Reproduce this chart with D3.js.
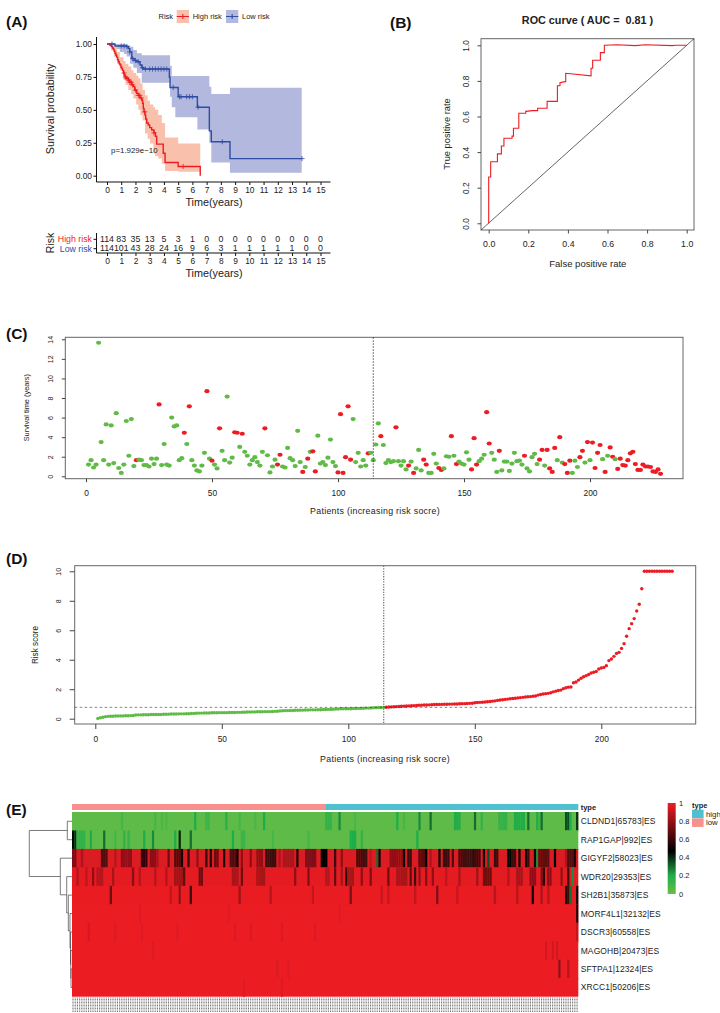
<!DOCTYPE html>
<html><head><meta charset="utf-8">
<script src="https://cdn.jsdelivr.net/npm/d3@7"></script>
<style>html,body{margin:0;padding:0;background:#fff}svg{display:block}text{font-family:"Liberation Sans",Arial,sans-serif}</style>
</head><body><svg id="c" width="720" height="1013"></svg>
<script>
// ---------- Panel A data
const yearTicks = d3.range(0,16);
const survTicks = [0,0.25,0.5,0.75,1];
const highTime = [0,.21,.3,.38,.45,.5,.56,.62,.68,.74,.8,.86,.92,.98,1.03,1.09,1.15,1.21,1.27,1.35,1.5,1.6,1.72,1.85,1.95,2.09,2.2,2.32,2.44,2.5,2.55,2.6,2.67,2.72,2.79,2.9,3.0,3.14,3.3,3.4,3.49,3.95,4.08,5.0,6.55];
const highSurv = [1,.99,.98,.97,.96,.945,.93,.915,.9,.88,.865,.85,.84,.825,.815,.8,.78,.765,.75,.74,.727,.71,.69,.676,.65,.625,.61,.59,.575,.55,.51,.485,.46,.43,.4,.385,.365,.347,.325,.3,.24,.17,.1,.07,0];
const highBandT = [0,.3,.5,.7,.9,1.15,1.3,1.5,1.7,1.85,2.05,2.2,2.35,2.5,2.67,2.85,3.02,3.26,3.38,3.6,3.85,4.08,5.0,6.55];
const highUpper = [1,1,.98,.94,.9,.87,.85,.83,.8,.78,.76,.74,.7,.65,.61,.57,.54,.52,.5,.46,.4,.29,.245,.245];
const highLower = [1,.95,.9,.85,.8,.727,.69,.65,.62,.587,.54,.5,.46,.42,.32,.28,.245,.17,.15,.13,.09,.035,.03,.03];
const lowTime = [0,.35,.56,1.38,1.5,1.6,1.74,1.9,2.09,2.32,2.45,2.56,4.38,4.43,5.0,6.35,7.19,7.33,8.64,13.68];
const lowSurv = [1,1,.985,.98,.965,.94,.89,.875,.865,.84,.82,.81,.747,.67,.6,.52,.34,.258,.13,.13];
const lowBandT = [0,.35,.6,.9,1.2,1.38,1.62,1.85,2.1,2.44,4.43,4.55,4.8,5.0,6.35,7.19,7.33,8.64,13.68];
const lowUpper = [1,1,1,1,1,.99,.98,.955,.93,.915,.835,.757,.757,.757,.757,.675,.62,.668,.668];
const lowLower = [1,.985,.96,.94,.925,.905,.85,.82,.78,.705,.6,.52,.443,.443,.35,.25,.1,.023,.023];
const highCensor = [1.2,1.3,1.4,1.5,1.6,1.7,1.8,2.0,2.2,2.3,2.4,2.65,3.3,5.35];
const lowCensor = [.35,1.0,1.2,1.4,1.6,1.8,2.0,2.2,2.5,2.7,3.0,3.2,3.4,3.6,3.8,4.0,4.2,4.65,5.1,5.2,5.6,5.8,6.0,6.4,8.1,13.7];
const riskHigh = [114,83,35,13,5,3,1,0,0,0,0,0,0,0,0,0];
const riskLow = [114,101,43,28,24,16,9,6,3,1,1,1,1,1,0,0];
// ---------- Panel B data
const rocFpr = [0,0,.01,.01,.044,.044,.064,.064,.077,.077,.118,.118,.125,.125,.152,.152,.187,.187,.222,.247,.247,.295,.295,.347,.347,.36,.36,.386,.389,.389,.517,.517,.525,.525,.564,.564,.584,.584,.65,.74,.79,.93,.94,1];
const rocTpr = [0,.26,.26,.346,.346,.39,.39,.434,.434,.478,.478,.49,.49,.534,.534,.618,.618,.629,.633,.633,.646,.646,.685,.685,.773,.773,.79,.796,.796,.843,.828,.871,.871,.916,.916,.959,.959,1,1.003,.998,1.003,.998,1,1];
const unitTicks = [0,.2,.4,.6,.8,1];
// ---------- Panel C data
const survivalYears = [1.2,1.65,.9,1.2,13.65,3.5,1.65,5.3,1.2,5.2,1.35,6.45,.85,.35,1.2,5.65,2.1,5.85,1.05,1.65,
1.7,1.65,1.15,1.15,1,1.8,1.25,1.8,7.35,1.15,3.3,1.2,1.1,6,5.1,5.2,1.65,1.85,4.45,3.3,
7.15,1.65,1.1,.6,.5,1.1,2.4,8.7,1.8,1.6,1.2,.8,4.9,2.6,1.65,8.15,1.4,1.9,4.5,4.45,
3,4.35,2.5,2.1,1.2,1.65,1.95,1.45,1.1,2.5,4.9,2.15,.4,1,1.7,1.2,2.2,1,.9,2.9,
1.85,1.65,1.05,4.65,1.45,.45,.95,1.8,2.5,2.55,.5,4.15,1.3,1.45,1.15,1.9,3.75,1.45,1.05,.4,
6.35,.35,1.95,7.15,1.7,5.85,1.45,2.4,1,1.65,1.1,2.35,2.4,1.65,3.25,5.4,4.1,3.2,1.35,1.65,
1.45,1.55,5,1.55,1.1,1.55,.7,1.1,1.5,.35,.8,2.7,.6,1.7,1.2,.35,.35,2.3,1.3,.85,
.65,.8,2.05,2,4.1,2.1,1.25,1.5,1.3,1.2,2.45,1.7,.7,3.9,1.2,1.55,1.8,2.2,6.55,3.35,
2.4,1.7,.45,2.6,.6,1.5,1.5,.55,1.3,2.4,1.55,1.6,1.2,2.1,.8,.5,1.95,2.3,1.25,1.7,
2.7,1.1,2.7,.8,.45,2.9,1.65,4,1.4,1.25,.35,1.6,.35,1.6,.95,1.95,2.6,1.4,3.5,1.65,
3.45,.85,2.4,3.2,1.75,.45,2.1,2.95,2,1.75,.75,1.8,1.15,1.1,1.65,2.35,2.5,1.25,.65,.65,
1.2,1,1,.95,.5,.45,.7,.25];
const deadPatients = [20,29,39,41,48,50,53,59,60,62,71,76,77,86,88,90,91,100,101,102,103,104,105,112,117,123,128,130,134,135,140,141,145,147,153,154,155,159,160,164,174,180,181,183,184,185,186,188,190,191,192,196,197,199,201,202,203,204,206,208,209,211,212,213,214,215,216,217,218,219,220,221,222,223,224,225,226,227,228];
const patientTicks = [0,50,100,150,200];
const yearsAxis = [0,2,4,6,8,10,12,14];
// ---------- Panel D data
const riskScore = [.02,.06,.1,.14,.16,.17,.17,.18,.18,.19,.19,.2,.2,.21,.22,
.25,.26,.26,.27,.27,.27,.28,.28,.28,.29,.29,.3,.3,.31,.32,
.32,.32,.33,.33,.33,.34,.34,.35,.36,.37,.38,.38,.39,.39,.39,.4,.4,.4,.41,.41,
.41,.41,.42,.42,.42,.43,.43,.44,.44,.45,.45,.46,.46,.47,.47,.47,.48,.48,.48,.49,
.5,.51,.53,.54,.55,.55,.56,.56,.57,.57,.58,.58,.59,.59,.6,.6,.6,.61,.61,.62,
.62,.63,.63,.64,.65,.66,.67,.67,.68,.68,.68,.69,.69,.7,.7,.71,.72,.72,.73,.74,.75,.76,.76,
.77,.78,.79,.8,.81,.82,.83,.84,.85,.86,.87,.88,.89,.9,.91,.92,.93,
.93,.94,.95,.96,.96,.97,.97,.98,.98,.99,.99,1,1,1.01,1.02,1.02,1.03,1.04,1.05,1.08,
1.1,1.11,1.12,1.13,1.15,1.17,1.19,1.21,1.24,1.27,1.29,1.31,1.33,1.35,1.37,1.39,1.41,1.43,1.45,1.47,1.49,1.5,1.52,1.54,1.6,
1.64,1.68,1.7,1.72,1.76,1.82,1.87,1.91,1.94,2.04,2.1,2.14,2.15,
2.44,2.49,2.62,2.74,2.85,2.92,3,3.1,3.15,3.2,3.37,3.44,3.48,3.6,3.94,4.05,4.23,4.43,4.5,4.77,5.09,5.59,6.11,6.45,6.79,7.31,7.76,8.82,
10,10,10,10,10,10,10,10,10,10,10,10];
const riskCut = 0.77, lowCount = 114;
const scoreTicks = [0,2,4,6,8,10];
// ---------- Panel E data: gene, usual value, then [first column, last column, value]
const genes = ["CLDND1|65783|ES","RAP1GAP|992|ES","GIGYF2|58023|ES","WDR20|29353|ES","SH2B1|35873|ES","MORF4L1|32132|ES","DSCR3|60558|ES","MAGOHB|20473|ES","SFTPA1|12324|ES","XRCC1|50206|ES"];
const usualValue = [.03,.03,.96,.98,.99,.995,.995,.995,.995,.995];
const runs0 = [[22,22,.1],[37,37,.1],[40,40,.08],[42,42,.08],[55,55,.2],[60,61,.12],[69,69,.18],[75,75,.1],[82,82,.08],[86,86,.2],[114,116,.15],[120,120,.25],[127,127,.08],[146,146,.2],[149,149,.1],[156,156,.25],[161,161,.3],[172,174,.2],[181,181,.3],[184,184,.15],[192,195,.15],[199,203,.2],[205,205,.3],[209,209,.2],[210,210,.12],[211,211,.3],[222,223,.35],[224,224,.2],[227,227,.4]];
const runs1 = [[0,0,.45],[1,1,.4],[2,5,.15],[8,8,.2],[14,14,.3],[19,19,.1],[23,23,.15],[25,25,.15],[32,32,.2],[36,36,.25],[46,46,.2],[48,48,.42],[53,53,.3],[72,72,.2],[76,76,.12],[77,77,.12],[90,90,.1],[106,106,.1],[125,127,.2],[130,130,.15],[155,155,.2]];
const runs2 = [[0,1,.75],[4,4,.85],[13,15,.65],[19,19,.88],[22,26,.8],[31,33,.58],[35,37,.78],[38,38,.85],[43,43,.72],[46,48,.65],[49,49,.52],[52,52,.6],[56,56,.8],[60,60,.6],[62,62,.55],[64,65,.7],[68,68,.55],[71,73,.65],[74,74,.48],[76,76,.8],[80,80,.8],[83,85,.8],[87,91,.6],[93,93,.85],[95,99,.85],[101,101,.55],[105,109,.75],[112,114,.47],[118,118,.6],[121,121,.8],[128,132,.62],[134,134,.9],[137,137,.3],[138,138,.5],[143,148,.8],[149,149,.5],[151,151,.6],[152,152,.6],[156,158,.65],[159,159,.5],[161,161,.85],[165,165,.5],[167,169,.6],[171,171,.65],[174,177,.62],[178,183,.6],[185,185,.52],[187,187,.35],[190,191,.6],[196,197,.47],[198,199,.6],[201,201,.48],[204,204,.5],[205,205,.6],[208,208,.45],[209,209,.25],[210,214,.68],[217,217,.48],[222,222,.85],[223,225,.65],[226,226,.55]];
const runs3 = [[2,2,.87],[6,6,.9],[9,9,.8],[11,13,.87],[18,18,.84],[27,27,.78],[30,30,.87],[37,37,.87],[42,42,.87],[46,49,.82],[50,50,.68],[57,58,.72],[72,74,.84],[76,76,.7],[83,86,.84],[100,100,.8],[106,106,.75],[114,115,.87],[118,118,.7],[121,121,.84],[123,123,.58],[124,126,.84],[130,130,.8],[134,134,.76],[142,142,.72],[146,150,.84],[152,152,.68],[154,154,.62],[156,156,.8],[159,159,.78],[162,162,.8],[168,168,.9],[174,174,.84],[182,182,.82],[185,188,.72],[196,196,.87],[200,202,.84],[206,208,.8],[211,211,.76],[212,212,.58],[214,215,.78],[220,220,.8],[223,223,.62],[225,225,.25]];
const runs4 = [[17,17,.72],[44,44,.9],[48,48,.8],[53,53,.6],[75,75,.82],[89,89,.88],[108,108,.9],[125,125,.75],[139,139,.92],[142,142,.92],[154,154,.9],[164,164,.75],[173,173,.92],[190,190,.88],[200,200,.88],[207,207,.5],[211,211,.85],[214,214,.88],[222,222,.55],[223,223,.6],[224,224,.3],[227,227,.45]];
const runs5 = [[227,227,.55],[30,30,.97],[70,70,.97],[120,120,.97]];
const runs6 = [[7,7,.95],[19,19,.96],[31,31,.96],[47,47,.96],[73,73,.96],[80,80,.96],[94,94,.96],[109,109,.96],[227,227,.9]];
const runs7 = [[36,36,.96],[213,213,.94],[216,216,.94],[218,218,.94]];
const runs8 = [[92,92,.96],[97,97,.96],[219,219,.8],[223,223,.88]];
const runs9 = [[77,77,.96],[94,94,.96]];
const allRuns = [runs0,runs1,runs2,runs3,runs4,runs5,runs6,runs7,runs8,runs9];
const legendTicks = [0,.2,.4,.6,.8,1];
const legendTypes = ["high","low"];
const colCount = 228;

// ---------- Helpers
const svg = d3.select("#c");
const RED="#ED1C24", BLUE="#2F4DA3", GREEN="#5FBB46", INK="#222";
const txt=(g,x,y,s,o={})=>{const t=g.append("text").attr("x",x).attr("y",y).attr("dy","0.35em").attr("font-size",o.size||8).attr("fill",o.fill||INK).attr("text-anchor",o.anchor||"middle").attr("font-weight",o.weight||null).text(s);
  if(o.rot) t.attr("transform",`rotate(-90 ${x} ${y})`); if(o.ls) t.attr("letter-spacing",o.ls); return t;};
const style=(a,size,col,stroke)=>{a.selectAll("text").attr("font-size",size).attr("fill",col).attr("font-family",'"Liberation Sans",Arial,sans-serif');a.selectAll("line,path").attr("stroke",stroke||col);};
[["(A)",6,22],["(B)",390,23],["(C)",6,334],["(D)",6,559],["(E)",6,810]].forEach(d=>txt(svg,d[1],d[2],d[0],{size:15.5,weight:"bold",anchor:"start",fill:"#111"}));

// ---------- Panel A
{
 const x=d3.scaleLinear().domain([0,15]).range([107,320.5]);
 const y=d3.scaleLinear().domain([0,1]).range([175.7,44]);
 const g=svg.append("g");
 const band=(t,u,l,c)=>g.append("path").attr("fill",c).attr("d",d3.area().curve(d3.curveStepAfter).x((d,i)=>x(t[i])).y0((d,i)=>y(l[i])).y1((d,i)=>y(u[i]))(t));
 band(lowBandT,lowUpper,lowLower,"#B3B8DE");
 band(highBandT,highUpper,highLower,"#F9C1AB");
 const line=(t,s,c)=>g.append("path").attr("fill","none").attr("stroke",c).attr("stroke-width",1.4).attr("d",d3.line().curve(d3.curveStepAfter).x((d,i)=>x(t[i])).y((d,i)=>y(s[i]))(t));
 line(lowTime,lowSurv,BLUE); line(highTime,highSurv,RED);
 const marks=(ts,t,s,c)=>{const b=d3.bisector(d=>d).right;
  g.append("g").selectAll("path").data(ts).join("path").attr("fill","none").attr("stroke",c).attr("stroke-width",.8)
   .attr("d",d=>{const px=x(d),py=y(s[Math.max(0,b(t,d)-1)]);return `M${px-2.6},${py}H${px+2.6}M${px},${py-2.6}V${py+2.6}`;});};
 marks(lowCensor,lowTime,lowSurv,BLUE); marks(highCensor,highTime,highSurv,RED);
 const ax=g.append("g").attr("transform","translate(0,182)").call(d3.axisBottom(x).tickValues(yearTicks).tickFormat(d3.format("d")).tickSizeInner(3).tickSizeOuter(0).tickPadding(2));
 style(ax,8.4,INK,"#111"); ax.select(".domain").attr("d","M96.5,0H330.5").attr("stroke-width",1);
 const ay=g.append("g").attr("transform","translate(96.5,0)").call(d3.axisLeft(y).tickValues(survTicks).tickFormat(d3.format(".2f")).tickSizeInner(3).tickSizeOuter(0).tickPadding(1.5));
 style(ay,8.4,INK,"#111"); ay.select(".domain").attr("d","M0,37V182");
 txt(g,50,109,"Survival probability",{size:10.8,rot:1});
 txt(g,214,202,"Time(years)",{size:10.8});
 txt(g,111,150,"p=1.929e\u221210",{size:7.9,anchor:"start"});
 // legend
 txt(g,158.5,16.7,"Risk",{size:7.5,anchor:"start"});
 [[176.7,"#F9C1AB",RED,"High risk",192.7],[226,"#B3B8DE",BLUE,"Low risk",242]].forEach(d=>{
  g.append("rect").attr("x",d[0]).attr("y",10).attr("width",12.3).attr("height",13).attr("fill",d[1]);
  g.append("path").attr("stroke",d[2]).attr("stroke-width",1.1).attr("fill","none").attr("d",`M${d[0]},16.5h12.3M${d[0]+6.15},14v5`);
  txt(g,d[4],16.7,d[3],{size:7.5,anchor:"start"});
 });
 // risk table
 const rows=d3.scalePoint().domain(["High risk","Low risk"]).range([238.8,248.2]);
 const rax=g.append("g").attr("transform","translate(0,253)").call(d3.axisBottom(x).tickValues(yearTicks).tickFormat(d3.format("d")).tickSizeInner(3).tickSizeOuter(0).tickPadding(2));
 style(rax,8.4,INK,"#111"); rax.select(".domain").attr("d","M96.5,0H330.5");
 const ray=g.append("g").attr("transform","translate(96.5,0)").call(d3.axisLeft(rows).tickSizeInner(3).tickSizeOuter(0).tickPadding(1.5));
 style(ray,8.8,INK,"#111"); ray.select(".domain").attr("d","M0,233V253");
 ray.selectAll(".tick text").attr("fill",d=>d==="High risk"?RED:BLUE);
 [[riskHigh,"High risk"],[riskLow,"Low risk"]].forEach(r=>r[0].forEach((v,i)=>txt(g,x(yearTicks[i]),rows(r[1]),v,{size:8.8})));
 txt(g,50,243,"Risk",{size:10.5,rot:1});
 txt(g,214,273.3,"Time(years)",{size:10.8});
}
// R-style frame + axes
function rFrame(fx0,fx1,fy0,fy1,x,y,xt,yt,o){
 const g=svg.append("g");
 g.append("rect").attr("x",fx0).attr("y",fy0).attr("width",fx1-fx0).attr("height",fy1-fy0).attr("fill","none").attr("stroke","#666").attr("stroke-width",1);
 const ax=g.append("g").attr("transform",`translate(0,${fy1})`).call(d3.axisBottom(x).tickValues(xt).tickFormat(o.xf||d3.format("d")).tickSizeInner(o.tick).tickSizeOuter(0).tickPadding(0));
 style(ax,o.size,INK,"#444"); ax.select(".domain").remove();
 ax.selectAll("text").attr("y",null).attr("dy",null).attr("dominant-baseline","central").attr("transform",`translate(0,${o.xlabY-fy1})`);
 const ay=g.append("g").attr("transform",`translate(${fx0},0)`).call(d3.axisLeft(y).tickValues(yt).tickFormat(o.yf||d3.format("d")).tickSizeInner(o.tick).tickSizeOuter(0));
 style(ay,o.ysize||o.size,INK,"#444"); ay.select(".domain").remove();
 ay.selectAll("text").attr("x",null).attr("dy",null).attr("dominant-baseline","central").attr("text-anchor","middle").attr("transform",`translate(${o.ylabX-fx0},0) rotate(-90)`);
 return g;
}
// ---------- Panel B
{
 const x=d3.scaleLinear().domain([0,1]).range([488.7,686.7]);
 const y=d3.scaleLinear().domain([0,1]).range([223.3,45.3]);
 const g=rFrame(481,694,38.7,230,x,y,unitTicks,unitTicks,{tick:3.5,size:8.8,ysize:8.4,xlabY:244,ylabX:465.7,xf:d3.format(".1f"),yf:d3.format(".1f")});
 g.append("line").attr("x1",481).attr("y1",230).attr("x2",694).attr("y2",38.7).attr("stroke","#222").attr("stroke-width",.7);
 g.append("path").attr("fill","none").attr("stroke",RED).attr("stroke-width",1.1).attr("d",d3.line().x((d,i)=>x(rocFpr[i])).y((d,i)=>y(rocTpr[i]))(rocFpr));
 txt(g,587.5,20,"ROC curve ( AUC =  0.81 )",{size:10.8,weight:"bold"}).style("white-space","pre");
 txt(g,587.8,263.3,"False positive rate",{size:9.5});
 txt(g,446.7,134,"True positive rate",{size:9.3,rot:1});
}
// ---------- Panel C
{
 const x=d3.scaleLinear().domain([0,200]).range([86,590]);
 const y=d3.scaleLinear().domain([0,14]).range([476.3,339.3]);
 const g=rFrame(65.3,683,337.3,478.7,x,y,patientTicks,yearsAxis,{tick:3.5,size:8.4,ysize:7,xlabY:492.7,ylabX:50});
 g.selectAll(null).data(survivalYears).join("ellipse").attr("cx",(d,i)=>x(i+1)).attr("cy",d=>y(d)).attr("rx",2.6).attr("ry",2.1)
  .attr("fill",(d,i)=>deadPatients.includes(i+1)?RED:GREEN);
 g.append("line").attr("x1",x(lowCount)).attr("x2",x(lowCount)).attr("y1",337.3).attr("y2",478.7).attr("stroke","#222").attr("stroke-width",.8).attr("stroke-dasharray","1.5 1.5");
 txt(g,375,510.7,"Patients (increasing risk socre)",{size:8.8,ls:.3});
 txt(g,26,407.7,"Survival time (years)",{size:7.4,rot:1});
}
// ---------- Panel D
{
 const x=d3.scaleLinear().domain([0,200]).range([95.3,601.3]);
 const y=d3.scaleLinear().domain([0,10]).range([718.7,571.3]);
 const g=rFrame(74.7,695.7,565.7,724,x,y,patientTicks,scoreTicks,{tick:5,size:8.4,ysize:7,xlabY:739,ylabX:58.3});
 g.selectAll(null).data(riskScore).join("circle").attr("cx",(d,i)=>x(i+1)).attr("cy",d=>y(d)).attr("r",1.7)
  .attr("fill",(d,i)=>i<lowCount?GREEN:RED);
 g.append("line").attr("x1",74.7).attr("x2",695.7).attr("y1",y(riskCut)).attr("y2",y(riskCut)).attr("stroke","#333").attr("stroke-width",.6).attr("stroke-dasharray","2.5 2.5");
 g.append("line").attr("x1",x(lowCount)).attr("x2",x(lowCount)).attr("y1",565.7).attr("y2",724).attr("stroke","#666").attr("stroke-width",1.1).attr("stroke-dasharray","1.3 1.3");
 txt(g,385,759.3,"Patients (increasing risk socre)",{size:8.8,ls:.3});
 txt(g,35,645,"Risk score",{size:8.2,rot:1});
}
// ---------- Panel E
{
 const g=svg.append("g");
 const cols=d3.range(colCount);
 const x=d3.scaleBand().domain(cols).range([72,578.3]);
 const yBand=d3.scaleBand().domain(d3.range(genes.length)).range([812,996.7]);
 const colour=d3.scaleLinear().domain([0,.2,.47,1]).range(["#6ABD45","#1FAE4B","#000000","#ED1C24"]);
 const defs=svg.append("defs");
 defs.append("filter").attr("id","soft").attr("x","-1%").attr("y","-1%").attr("width","102%").attr("height","102%")
   .append("feGaussianBlur").attr("stdDeviation","0.7 0.2");
 g.append("rect").attr("x",x(0)).attr("y",804).attr("width",x.step()*lowCount).attr("height",6).attr("fill","#F8918D");
 g.append("rect").attr("x",x(lowCount)).attr("y",804).attr("width",x.step()*(colCount-lowCount)).attr("height",6).attr("fill","#4FC0D0");
 const matrix=genes.map((n,r)=>{const v=cols.map(()=>usualValue[r]);allRuns[r].forEach(a=>{for(let c=a[0];c<=a[1];c++)v[c]=a[2];});return v;});
 const cells=g.append("g").attr("filter","url(#soft)");
 matrix.forEach((v,r)=>{
  const over=r<genes.length-1?1:0;
  cells.append("rect").attr("x",x(0)).attr("y",yBand(r)).attr("width",x.step()*colCount).attr("height",yBand.bandwidth()+over).attr("fill",colour(usualValue[r]));
  cells.append("g").selectAll("rect").data(v.map((d,c)=>({d,c})).filter(o=>o.d!==usualValue[r])).join("rect").attr("x",o=>x(o.c)).attr("y",yBand(r)).attr("width",x.bandwidth()).attr("height",yBand.bandwidth()).attr("fill",o=>colour(o.d));
 });
 genes.forEach((n,r)=>txt(g,580.7,yBand(r)+yBand.bandwidth()/2,n,{size:8.5,anchor:"start",ls:.1}));
 txt(g,580.7,807,"type",{size:7.5,anchor:"start",weight:"bold"});
 // illegible sample labels under the columns
 g.append("g").selectAll("line").data(cols).join("line").attr("x1",c=>x(c)+1).attr("x2",c=>x(c)+1).attr("y1",997.5).attr("y2",1012).attr("stroke","#777").attr("stroke-width",1.1).attr("stroke-dasharray","1 .5");
 // dendrogram: merges from the bottom of the tree upward
 const h=d3.scaleLinear().domain([0,1]).range([72,29.3]);
 const mid=r=>yBand(r)+yBand.bandwidth()/2;
 const merges=[[8,9,.023],[7,null,.028],[6,null,.035],[5,null,.047],[4,null,.086],[3,null,.124],[2,null,.274]];
 let curY=null,curH=0,paths=[];
 merges.forEach((m,i)=>{
  const ya=mid(m[0]), yb=i===0?mid(m[1]):curY, hb=i===0?0:curH;
  paths.push(`M${h(0)},${ya}H${h(m[2])}V${yb}H${h(hb)}`);
  curY=(ya+yb)/2; curH=m[2];
 });
 const topH=.11, topY=(mid(0)+mid(1))/2;
 paths.push(`M${h(0)},${mid(0)}H${h(topH)}V${mid(1)}H${h(0)}`);
 paths.push(`M${h(topH)},${topY}H${h(1)}V${curY}H${h(curH)}`);
 g.append("path").attr("fill","none").attr("stroke","#444").attr("stroke-width",.7).attr("d",paths.join(""));
 // legends
 const ly=d3.scaleLinear().domain([0,1]).range([894,803]);
 const lg=defs.append("linearGradient").attr("id","hm").attr("x1",0).attr("x2",0).attr("y1",1).attr("y2",0);
 colour.domain().forEach(v=>lg.append("stop").attr("offset",v).attr("stop-color",colour(v)));
 g.append("rect").attr("x",667.7).attr("y",ly(1)).attr("width",8).attr("height",ly(0)-ly(1)).attr("fill","url(#hm)");
 legendTicks.forEach(v=>txt(g,679,ly(v),d3.format("")(v),{size:7.5,anchor:"start"}));
 txt(g,692,805.7,"type",{size:7.5,anchor:"start",weight:"bold"});
 const ls=d3.scalePoint().domain(legendTypes).range([814,822.7]);
 legendTypes.forEach((t,i)=>{
  g.append("rect").attr("x",692).attr("y",ls(t)-4.3).attr("width",11.6).attr("height",8.5).attr("fill",i?"#F8918D":"#4FC0D0");
  txt(g,706,ls(t),t,{size:7.8,anchor:"start"});
 });
}
</script></body></html>
